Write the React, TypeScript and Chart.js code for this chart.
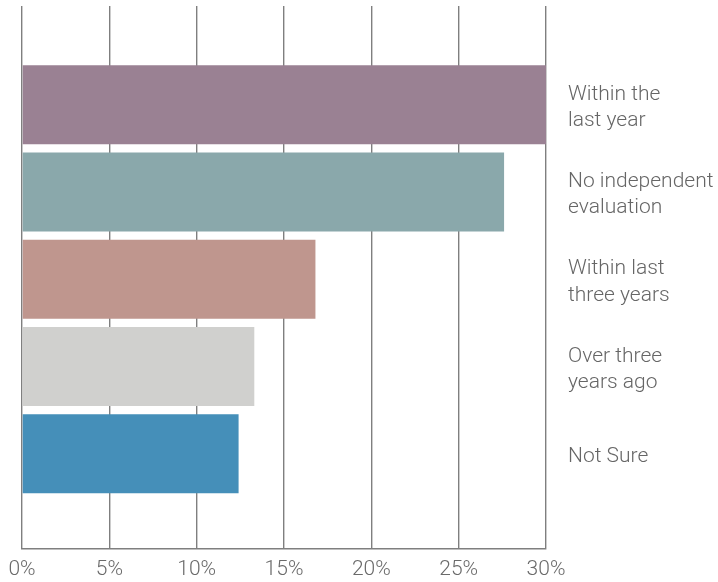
import React, { useEffect, useRef } from "react";
import { Chart, registerables } from "chart.js";

Chart.register(...registerables);

const categories: string[][] = [
  ["Within the", "last year"],
  ["No independent", "evaluation"],
  ["Within last", "three years"],
  ["Over three", "years ago"],
  ["Not Sure"],
];
const values: number[] = [30, 27.6, 16.8, 13.3, 12.4];
const colors: string[] = ["#9a8193", "#8aa8ab", "#bf968e", "#d0d0ce", "#458fb9"];
const xTicks: number[] = [0, 5, 10, 15, 20, 25, 30];

export default function App() {
  const ref = useRef<HTMLCanvasElement | null>(null);
  useEffect(() => {
    document.body.style.margin = "0";
    if (!ref.current) return;
    const chart = new Chart(ref.current, {
      type: "bar",
      data: {
        datasets: [
          {
            data: values.map((v, i) => ({ x: v, y: i })),
            backgroundColor: colors,
            borderWidth: 0,
            categoryPercentage: 1,
            barPercentage: 0.905,
          },
        ],
      },
      options: {
        indexAxis: "y",
        animation: false,
        responsive: false,
        maintainAspectRatio: false,
        layout: { padding: { top: 6, left: 22, right: 0, bottom: 0 } },
        plugins: { legend: { display: false }, tooltip: { enabled: false } },
        scales: {
          x: {
            type: "linear",
            min: 0,
            max: 30,
            afterBuildTicks: (s: any) => {
              s.ticks = xTicks.map((v) => ({ value: v }));
            },
            afterFit: (s: any) => {
              s.height = 33;
            },
            ticks: {
              callback: (v: any) => v + "%",
              color: "#6a6a6a",
              font: { family: "Roboto", weight: "300", size: 21 },
              padding: 8,
            },
            grid: { color: "#7f7f7f", lineWidth: 1.4, drawTicks: false },
            border: { color: "#7f7f7f", width: 1.4 },
          },
          y: {
            type: "linear",
            position: "right",
            reverse: true,
            offset: false,
            min: -1.13,
            max: 5.09,
            afterBuildTicks: (s: any) => {
              s.ticks = categories.map((_, i) => ({ value: i }));
            },
            afterFit: (s: any) => {
              s.width = 172;
              s.paddingTop = 0;
              s.paddingBottom = 0;
            },
            ticks: {
              callback: (v: any) => categories[v as number] ?? "",
              color: "#666666",
              font: { family: "Roboto", weight: "300", size: 21, lineHeight: 1.25 },
              padding: 22,
              labelOffset: 3,
              crossAlign: "near",
            },
            grid: { display: false, drawTicks: false },
            border: { display: false },
          },
        },
      },
    });
    return () => chart.destroy();
  }, []);
  return (
    <div style={{ width: 718, height: 582 }}>
      <canvas ref={ref} width={718} height={582} style={{ display: "block" }} />
    </div>
  );
}
